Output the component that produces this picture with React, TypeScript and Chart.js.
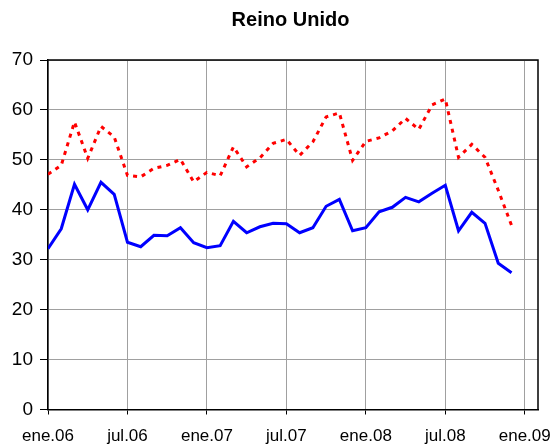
import React, { useEffect, useRef } from "react";
import { Chart, registerables } from "chart.js";

Chart.register(...registerables);

const title = "Reino Unido";

const months = [
  "ene.06", "feb.06", "mar.06", "abr.06", "may.06", "jun.06", "jul.06", "ago.06", "sep.06", "oct.06", "nov.06", "dic.06",
  "ene.07", "feb.07", "mar.07", "abr.07", "may.07", "jun.07", "jul.07", "ago.07", "sep.07", "oct.07", "nov.07", "dic.07",
  "ene.08", "feb.08", "mar.08", "abr.08", "may.08", "jun.08", "jul.08", "ago.08", "sep.08", "oct.08", "nov.08", "dic.08",
];

const blueSeries = [
  32.2, 36.2, 45.1, 40.0, 45.5, 43.1, 33.5, 32.6, 34.9, 34.8, 36.4, 33.4,
  32.4, 32.8, 37.7, 35.4, 36.6, 37.3, 37.2, 35.4, 36.4, 40.7, 42.1, 35.8,
  36.4, 39.6, 40.5, 42.5, 41.6, 43.3, 44.9, 35.8, 39.5, 37.3, 29.3, 27.4,
];

const redSeries = [
  47.1, 48.9, 57.6, 50.3, 56.7, 54.6, 46.9, 46.6, 48.3, 48.9, 50.1, 45.6,
  47.5, 46.8, 52.6, 48.6, 50.4, 53.3, 54.1, 50.9, 53.6, 58.6, 59.4, 49.9,
  53.7, 54.4, 55.8, 58.3, 56.1, 61.0, 62.2, 50.5, 53.1, 50.5, 43.9, 36.9,
];

const xTickLabels = ["ene.06", "jul.06", "ene.07", "jul.07", "ene.08", "jul.08", "ene.09"];
const xTickValues = [0, 6, 12, 18, 24, 30, 36];

const FONT = "'Liberation Sans', Arial, sans-serif";

export default function App() {
  const ref = useRef<HTMLCanvasElement | null>(null);

  useEffect(() => {
    if (!ref.current) return;
    const framePlugin = {
      id: "frame",
      afterDraw(chart: any) {
        const { ctx, chartArea } = chart;
        ctx.save();
        ctx.strokeStyle = "#000";
        ctx.lineWidth = 1.5;
        ctx.beginPath();
        ctx.moveTo(chartArea.left, chartArea.top);
        ctx.lineTo(chartArea.right, chartArea.top);
        ctx.lineTo(chartArea.right, chartArea.bottom);
        ctx.stroke();
        ctx.fillStyle = "#000";
        ctx.font = `bold 20px ${FONT}`;
        ctx.textAlign = "center";
        ctx.textBaseline = "middle";
        ctx.fillText(title, 290.5, 20);
        ctx.restore();
      },
    };

    const chart = new Chart(ref.current, {
      type: "line",
      data: {
        datasets: [
          {
            label: "red",
            data: redSeries.map((v, i) => ({ x: i, y: v })),
            borderColor: "#ff0000",
            borderWidth: 3,
            borderDash: [4, 5],
            pointRadius: 0,
            tension: 0,
            fill: false,
          },
          {
            label: "blue",
            data: blueSeries.map((v, i) => ({ x: i, y: v })),
            borderColor: "#0000ff",
            borderWidth: 3,
            pointRadius: 0,
            tension: 0,
            fill: false,
          },
        ],
      },
      options: {
        animation: false,
        responsive: false,
        maintainAspectRatio: false,
        layout: { padding: { top: 60, right: 21, left: 0, bottom: 0 } },
        plugins: {
          legend: { display: false },
          title: { display: false },
          tooltip: { enabled: false },
        },
        scales: {
          x: {
            type: "linear",
            min: 0,
            max: 37,
            afterBuildTicks: (scale: any) => {
              scale.ticks = xTickValues.map((v) => ({ value: v }));
            },
            afterFit: (scale: any) => {
              scale.height = 38.5;
              scale.paddingLeft = 0;
              scale.paddingRight = 0;
            },
            ticks: {
              autoSkip: false,
              maxRotation: 0,
              padding: 12,
              color: "#000",
              font: { family: FONT, size: 17 },
              callback: (v: any) => {
                const idx = xTickValues.indexOf(Number(v));
                return idx >= 0 ? xTickLabels[idx] : "";
              },
            },
            grid: {
              color: "#a0a0a0",
              lineWidth: 1,
              tickLength: 5,
              tickColor: "#000",
            },
            border: { color: "#000", width: 1.5 },
          },
          y: {
            min: 0,
            max: 70,
            afterFit: (scale: any) => {
              scale.width = 48;
              scale.paddingTop = 0;
              scale.paddingBottom = 0;
            },
            ticks: {
              stepSize: 10,
              padding: 7,
              color: "#000",
              font: { family: FONT, size: 19 },
            },
            grid: {
              color: "#a0a0a0",
              lineWidth: 1,
              tickLength: 8,
              tickColor: "#000",
            },
            border: { color: "#000", width: 1.5 },
          },
        },
      },
      plugins: [framePlugin],
    } as any);
    return () => chart.destroy();
  }, []);

  return (
    <div style={{ position: "fixed", left: 0, top: 0, width: 559, height: 448, background: "#fff" }}>
      <canvas ref={ref} width={559} height={448} style={{ width: 559, height: 448, display: "block" }} />
    </div>
  );
}
